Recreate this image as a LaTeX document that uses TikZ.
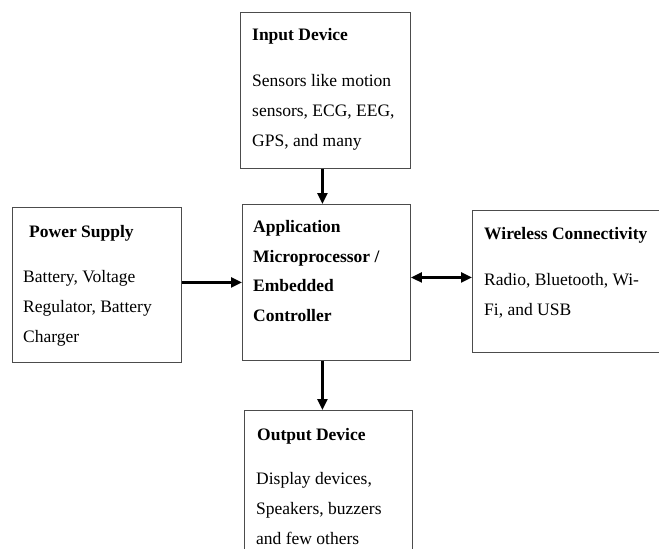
\documentclass[tikz,border=0pt]{standalone}
\usepackage{fontspec}
\setmainfont{Liberation Serif}
\usetikzlibrary{arrows.meta}

\tikzset{
  blk/.style={draw=black!70,line width=0.9pt,anchor=north west,inner sep=0pt},
  txt/.style={anchor=base west,inner sep=0pt,align=left,font=\fontsize{17.5}{30}\selectfont},
  hd/.style={txt,font=\fontsize{17.5}{29.5}\selectfont\bfseries},
  arr/.style={-{Triangle[length=11pt,width=10pt]},line width=2.3pt},
}

\begin{document}
\begin{tikzpicture}[x=1pt,y=-1pt]
\useasboundingbox (0,0) rectangle (659,549);
\clip (0,0) rectangle (659,549);
% boxes
\node[blk,minimum width=170,minimum height=156] (inp) at (240,12) {};
\node[blk,minimum width=169,minimum height=155] (pwr) at (12,207) {};
\node[blk,minimum width=168,minimum height=156] (mcu) at (242,204) {};
\node[blk,minimum width=200,minimum height=142] (wls) at (472,210) {};
\node[blk,minimum width=168,minimum height=150] (out) at (244,410) {};
% texts (multi-line nodes sit on their last line)
\node[hd] (inph) at (252,40) {Input Device};
\node[txt] (inpt) at (252,146) {Sensors like motion\\sensors, ECG, EEG,\\GPS, and many};
\node[hd] (pwrh) at (29,237) {Power Supply};
\node[txt] (pwrt) at (23,342) {Battery, Voltage\\Regulator, Battery\\Charger};
\node[hd] (mcut) at (253,321) {Application\\Microprocessor /\\Embedded\\Controller};
\node[hd] (wlsh) at (484,239) {Wireless Connectivity};
\node[txt] (wlst) at (484,315) {Radio, Bluetooth, Wi-\\Fi, and USB};
\node[hd] (outh) at (257,440) {Output Device};
\node[txt] (outt) at (256,544) {Display devices,\\Speakers, buzzers\\and few others};
% arrows
\draw[arr] ([xshift=-3pt]inp.south) -- ([xshift=-3pt]inp.south|-mcu.north);
\draw[arr] (pwr.east|-mcu.west) -- (mcu.west);
\draw[arr,{Triangle[length=11pt,width=10pt]}-{Triangle[length=11pt,width=10pt]}] ([yshift=5pt]mcu.east) -- ([yshift=5pt]mcu.east-|wls.west);
\draw[arr] ([xshift=-4pt]mcu.south) -- ([xshift=-4pt]mcu.south|-out.north);
\end{tikzpicture}
\end{document}
